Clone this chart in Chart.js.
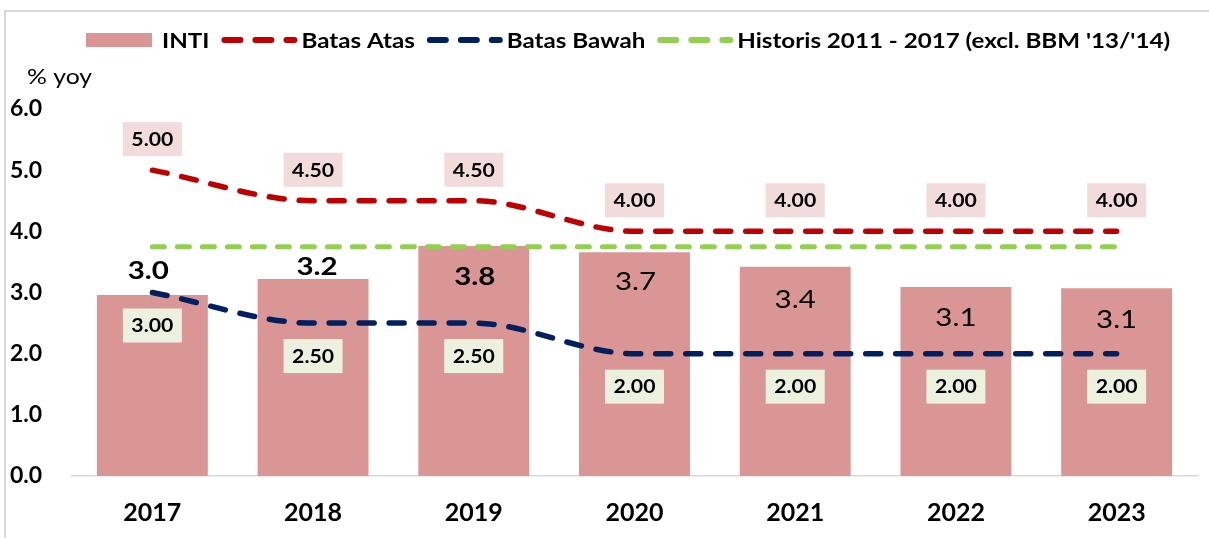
<!DOCTYPE html>
<html><head><meta charset="utf-8">
<script src="https://cdn.jsdelivr.net/npm/chart.js@4.4.1/dist/chart.umd.min.js"></script>
<style>html,body{margin:0;padding:0;background:#fff;}canvas{display:block;}</style>
</head><body>
<canvas id="c" width="1209" height="538"></canvas>
<script>
const categories = ['2017', '2018', '2019', '2020', '2021', '2022', '2023'];
const intiValues = [2.96, 3.22, 3.76, 3.66, 3.42, 3.09, 3.07];
const batasAtas = [5.00, 4.50, 4.50, 4.00, 4.00, 4.00, 4.00];
const batasBawah = [3.00, 2.50, 2.50, 2.00, 2.00, 2.00, 2.00];
const historis = [3.75, 3.75, 3.75, 3.75, 3.75, 3.75, 3.75];
const seriesNames = ['INTI', 'Batas Atas', 'Batas Bawah', "Historis 2011 - 2017 (excl. BBM '13/'14)"];
const yAxisTitle = '% yoy';

const FONT = 'Lato, "Open Sans", sans-serif';
const COLORS = { bar: '#d99694', atas: '#c00000', bawah: '#002060', hist: '#92d050',
  atasBox: '#f2dcdb', bawahBox: '#ebf1de', border: '#d9d9d9' };

function drawText(ctx, text, x, y, sx, align) {
  ctx.save();
  ctx.translate(x, y);
  ctx.scale(sx, 1);
  ctx.textAlign = align;
  ctx.textBaseline = 'middle';
  ctx.fillText(text, 0, 0);
  ctx.restore();
}

const decor = {
  id: 'decor',
  beforeDraw(chart) {
    const ctx = chart.ctx;
    ctx.save();
    ctx.fillStyle = '#fff';
    ctx.fillRect(0, 0, chart.width, chart.height);
    ctx.strokeStyle = COLORS.border;
    ctx.lineWidth = 2;
    ctx.beginPath();
    ctx.moveTo(5, chart.height); ctx.lineTo(5, 11); ctx.lineTo(chart.width, 11);
    ctx.stroke();
    ctx.restore();
  },
  afterDatasetsDraw(chart, args, opts) {
    const ctx = chart.ctx;
    ctx.save();
    const barMeta = chart.getDatasetMeta(0);
    ctx.fillStyle = '#000';
    barMeta.data.forEach((el, i) => {
      const v = chart.data.datasets[0].data[i];
      ctx.font = `${opts.barWeight[i]} ${opts.barSize}px ${FONT}`;
      drawText(ctx, v.toFixed(1), el.x + opts.barDx[i], el.y + opts.barDy[i], opts.textScale, 'center');
    });
    const drawBoxes = (dsIndex, dy, fill, leaders) => {
      const meta = chart.getDatasetMeta(dsIndex);
      const data = chart.data.datasets[dsIndex].data;
      meta.data.forEach((pt, i) => {
        const cx = pt.x, cy = pt.y + dy;
        const w = opts.boxW, h = opts.boxH;
        if (leaders.includes(i)) {
          ctx.strokeStyle = '#a6a6a6';
          ctx.lineWidth = 1;
          ctx.beginPath();
          ctx.moveTo(cx - 1.5, pt.y + 3);
          ctx.lineTo(cx - 1.5, cy - h / 2);
          ctx.stroke();
        }
        ctx.fillStyle = fill;
        ctx.fillRect(cx - w / 2, cy - h / 2, w, h);
        ctx.fillStyle = '#000';
        ctx.font = `bold ${opts.boxSize}px ${FONT}`;
        drawText(ctx, data[i].toFixed(2), cx, cy + 1, opts.textScale, 'center');
      });
    };
    drawBoxes(1, opts.atasDy, COLORS.atasBox, []);
    drawBoxes(2, opts.bawahDy, COLORS.bawahBox, [0]);
    ctx.restore();
  },
  afterDraw(chart, args, opts) {
    const ctx = chart.ctx;
    ctx.save();
    ctx.font = `21px ${FONT}`;
    ctx.fillStyle = '#000';
    drawText(ctx, yAxisTitle, 27, 77, opts.textScale, 'left');
    const sx = opts.legendScale;
    ctx.font = `bold 21px ${FONT}`;
    let x = 86;
    const y = 40;
    chart.data.datasets.forEach((ds, i) => {
      if (i === 0) {
        ctx.fillStyle = ds.backgroundColor;
        ctx.fillRect(x, 33, 66, 14);
        x += 76;
      } else {
        ctx.strokeStyle = ds.borderColor;
        ctx.lineWidth = 6;
        ctx.lineCap = 'round';
        ctx.setLineDash([16, 15]);
        ctx.beginPath();
        ctx.moveTo(x + 3, y);
        ctx.lineTo(x + 73, y);
        ctx.stroke();
        ctx.setLineDash([]);
        x += 80;
      }
      ctx.fillStyle = '#000';
      drawText(ctx, ds.label, x, y + 1, sx, 'left');
      x += ctx.measureText(ds.label).width * sx + 12;
    });
    ctx.restore();
  }
};

const chart = new Chart(document.getElementById('c'), {
  type: 'bar',
  data: {
    labels: categories,
    datasets: [
      { type: 'bar', label: seriesNames[0], data: intiValues, backgroundColor: COLORS.bar,
        categoryPercentage: 1, barPercentage: 0.69, order: 10 },
      { type: 'line', label: seriesNames[1], data: batasAtas, borderColor: COLORS.atas,
        borderWidth: 5.5, borderDash: [15, 15], borderCapStyle: 'round', pointRadius: 0,
        cubicInterpolationMode: 'monotone', fill: false, order: 2 },
      { type: 'line', label: seriesNames[2], data: batasBawah, borderColor: COLORS.bawah,
        borderWidth: 5.5, borderDash: [15, 15], borderCapStyle: 'round', pointRadius: 0,
        cubicInterpolationMode: 'monotone', fill: false, order: 1 },
      { type: 'line', label: seriesNames[3], data: historis, borderColor: COLORS.hist,
        borderWidth: 5, borderDash: [12, 13], borderCapStyle: 'round', pointRadius: 0,
        fill: false, order: 3 }
    ]
  },
  options: {
    responsive: false,
    animation: false,
    devicePixelRatio: 1,
    layout: { padding: { left: 10, right: 12, top: 109, bottom: 0 } },
    plugins: {
      legend: { display: false },
      tooltip: { enabled: false },
      decor: {
        textScale: 1.18,
        legendScale: 1.15,
        barSize: 25,
        barWeight: ['bold', 'bold', 'bold', 'normal', 'normal', 'normal', 'normal'],
        barDx: [-4, 4, 1, 1, 0, 0, 0],
        barDy: [-24, -12, 31, 30, 33, 31, 32],
        boxSize: 18,
        boxW: 59, boxH: 34,
        atasDy: -31,
        bawahDy: 33
      }
    },
    scales: {
      x: {
        grid: { display: false, drawTicks: false },
        border: { display: true, color: COLORS.border, width: 1.5 },
        ticks: { color: '#000', font: { family: FONT, size: 25, weight: 'bold' }, padding: 22 },
        afterFit(scale) { scale.height = 62; }
      },
      y: {
        min: 0, max: 6,
        grid: { display: false, drawTicks: false },
        border: { display: false },
        ticks: { stepSize: 1, color: '#000', crossAlign: 'far',
          font: { family: FONT, size: 23, weight: 'bold' },
          callback: (v) => Number(v).toFixed(1) },
        afterFit(scale) { scale.width = 62; }
      }
    }
  },
  plugins: [decor]
});
</script>
</body></html>
